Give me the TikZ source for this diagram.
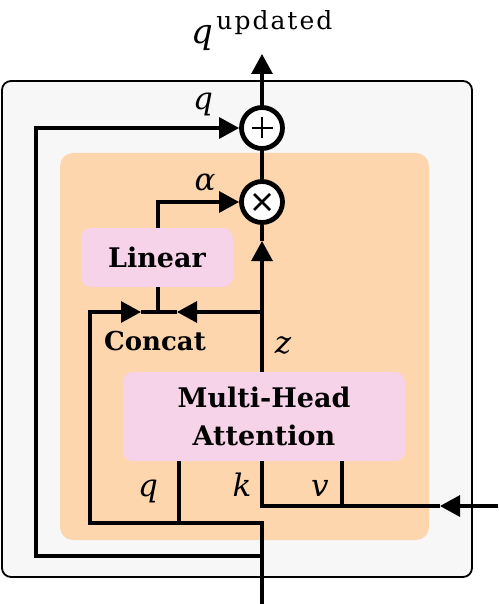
\documentclass[tikz,border=0pt]{standalone}
\usepackage{fontspec}
\setmainfont{DejaVu Serif}
\usetikzlibrary{arrows.meta,calc}
\definecolor{outerfill}{HTML}{F7F7F7}
\definecolor{peach}{HTML}{FDD6AE}
\definecolor{pinkbox}{HTML}{F7D3E9}
\begin{document}
\begin{tikzpicture}[x=1pt,y=-1pt,
  conn/.style={line width=3.2pt,line join=miter},
  arr/.style={conn,-{Triangle[length=20pt,width=21pt]}},
  opnode/.style={circle,draw,line width=4.8pt,fill=white,minimum size=41pt,inner sep=0pt},
  blockbox/.style={fill=pinkbox,rounded corners=10pt,align=center,inner sep=0pt,
    font=\fontsize{27}{38}\selectfont\bfseries},
  mathlbl/.style={font=\fontsize{31}{31}\selectfont\itshape,inner sep=0pt},
  txtlbl/.style={font=\fontsize{26}{28}\selectfont\bfseries,inner sep=0pt}]
\useasboundingbox (0,0) rectangle (498,604);
% containers
\draw[fill=outerfill,line width=1.8pt,rounded corners=9pt] (2,81) rectangle (472,577);
\fill[peach,rounded corners=13pt] (60,153) rectangle (429,540);
% blocks
\node[blockbox,minimum width=152pt,minimum height=59pt] (linear) at (157,257.5) {Linear};
\node[blockbox,minimum width=282pt,minimum height=89pt] (mha) at (264,416.5) {Multi-Head\\Attention};
% operators
\node[opnode] (plus) at (262,128) {};
\node[opnode] (times) at (262,202) {};
\draw[line width=2.6pt] ($(plus.center)+(-10.5,0)$) -- ($(plus.center)+(10.5,0)$)
  ($(plus.center)+(0,-10.5)$) -- ($(plus.center)+(0,10.5)$);
\draw[line width=2.6pt] ($(times.center)+(-8,-8)$) -- ($(times.center)+(8,8)$)
  ($(times.center)+(-8,8)$) -- ($(times.center)+(8,-8)$);
% coordinates
\coordinate (inb) at (262,604);
\coordinate (jskip) at (262,556);
\coordinate (jq) at (262,523);
\coordinate (qbr) at (179,523);
\coordinate (lft) at (90,523);
\coordinate (cc) at (158,312);
\coordinate (ca) at (141,312);
\coordinate (cb) at (177,312);
\coordinate (zj) at (262,312);
\coordinate (zarr) at (262,241);
\coordinate (out) at (262,54);
\coordinate (kin) at (498,506);
\coordinate (karr) at (440,506);
\coordinate (kc) at (262,506);
\coordinate (vc) at (342,506);
% connectors
\draw[arr] (plus.north) -- (out);
\draw[conn] (times.north) -- (plus.south);
\draw[arr] (inb) -- (jq) -- (lft) |- (ca);
\draw[conn] (ca) -- (cc);
\draw[arr] (jskip) -| (36,128) -- (plus.west);
\draw[conn] (qbr) -- (qbr |- mha.south);
\draw[conn] (times |- mha.north) -- (zj);
\draw[arr] (zj) -- (zarr);
\draw[conn] (zarr) -- (times.south);
\draw[arr] (zj) -- (cb);
\draw[conn] (cb) -- (cc);
\draw[conn] (cc) -- (cc |- linear.south);
\draw[arr] (cc |- linear.north) |- (times.west);
\draw[arr] (kin) -- (karr);
\draw[conn] (karr) -- (kc) -- (kc |- mha.south);
\draw[conn] (vc) -- (vc |- mha.south);
% labels
\node[anchor=base] (qup) at (262,44) {\fontsize{34}{34}\selectfont\itshape q\hspace{3pt}\raisebox{14pt}{\fontsize{25}{25}\selectfont\upshape\addfontfeatures{LetterSpace=8}updated}};
\node[mathlbl,anchor=base] (lq) at (203,110) {q};
\node[mathlbl,anchor=base] (lalpha) at (205,190) {α};
\node[mathlbl,anchor=base] (lz) at (283,353) {z};
\node[mathlbl,anchor=base] (lq2) at (148,496) {q};
\node[mathlbl,anchor=base] (lk) at (242,496) {k};
\node[mathlbl,anchor=base] (lv) at (320,496) {v};
\node[txtlbl,anchor=base] (lconcat) at (155,350) {Concat};
\end{tikzpicture}
\end{document}
